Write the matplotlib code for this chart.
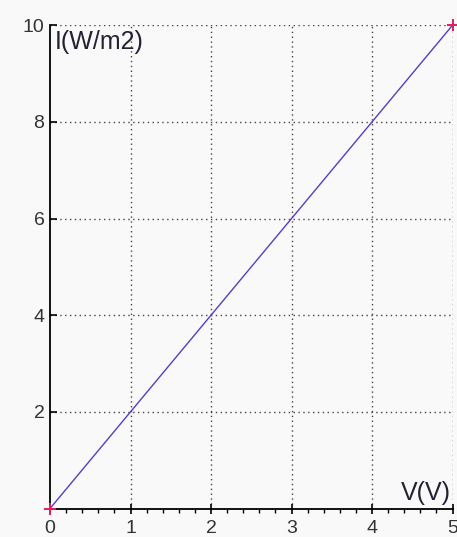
import matplotlib
matplotlib.use("Agg")
import matplotlib.pyplot as plt
from matplotlib.ticker import MultipleLocator

voltage = [0, 5]
intensity = [0, 10]
x_ticks = [0, 1, 2, 3, 4, 5]
y_ticks = [2, 4, 6, 8, 10]

plt.rcParams['font.family'] = ['Liberation Sans', 'DejaVu Sans']

fig = plt.figure(figsize=(4.57, 5.37), dpi=100)
fig.patch.set_facecolor('#f9f9f9')
ax = fig.add_axes([0.1094, 0.053, 0.8808, 0.9])
ax.set_facecolor('#f9f9f9')

ax.plot(voltage, intensity, color='#5a3cc0', lw=1.0, zorder=3)
ax.plot(voltage, intensity, ls='none', marker='+', ms=9, mew=1.4,
        color='#e0205a', zorder=4, clip_on=False)

ax.set_xlim(0, 5)
ax.set_ylim(0, 10)
ax.set_xticks(x_ticks)
ax.set_yticks(y_ticks)
ax.xaxis.set_minor_locator(MultipleLocator(0.2))

for s in ['top', 'right']:
    ax.spines[s].set_visible(False)
for s in ['left', 'bottom']:
    ax.spines[s].set_linewidth(1.3)
    ax.spines[s].set_color('black')

ax.tick_params(axis='y', direction='in', length=5, width=1.2, labelsize=14,
               labelcolor='#333333', pad=4)
ax.tick_params(axis='x', which='major', direction='inout', length=7, width=1.2,
               labelsize=14, labelcolor='#333333', pad=5)
ax.tick_params(axis='x', which='minor', direction='out', length=3, width=1.0)

for v in x_ticks[1:]:
    ax.axvline(v, color='#444444', ls=(0, (1, 2.5)), lw=1.0, zorder=1)
for v in y_ticks:
    ax.axhline(v, color='#444444', ls=(0, (1, 2.5)), lw=1.0, zorder=1)

ax.text(0.012, 0.99, 'I(W/m2)', transform=ax.transAxes, ha='left', va='top',
        fontsize=18, color='#222233')
ax.text(0.995, 0.008, 'V(V)', transform=ax.transAxes, ha='right', va='bottom',
        fontsize=18, color='#222233')

fig.savefig('out.png', dpi=100, facecolor=fig.get_facecolor())
